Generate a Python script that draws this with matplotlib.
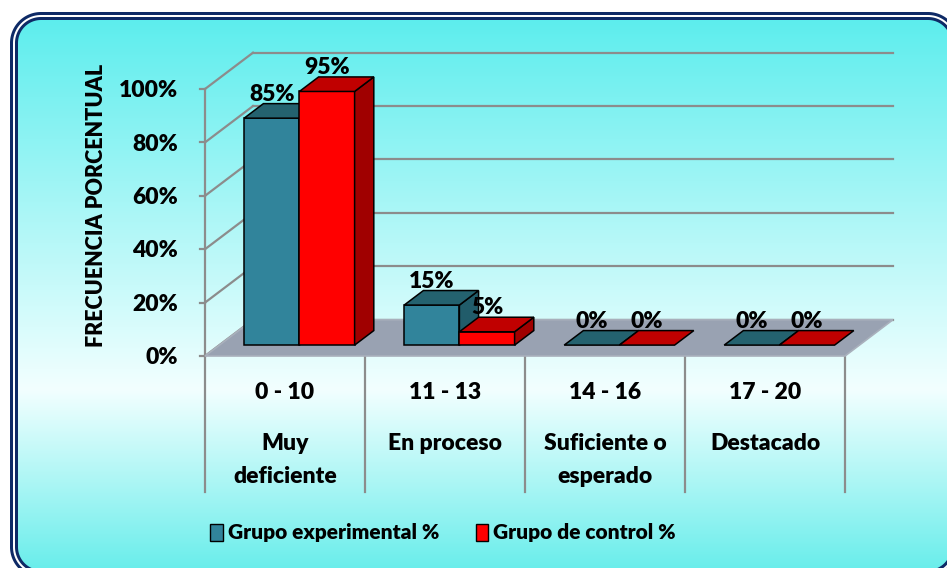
import numpy as np
import matplotlib
matplotlib.use("Agg")
import matplotlib.pyplot as plt
from matplotlib.patches import Polygon, Patch, PathPatch
from matplotlib.path import Path

# ---------------- data ----------------
ranges = ["0 - 10", "11 - 13", "14 - 16", "17 - 20"]
levels = [["Muy", "deficiente"], ["En proceso"], ["Suficiente o", "esperado"], ["Destacado"]]
series_names = ["Grupo experimental %", "Grupo de control %"]
experimental = [85, 15, 0, 0]
control = [95, 5, 0, 0]
yticks = [0, 20, 40, 60, 80, 100]

FONT = "Lato"
WT = "heavy"
plt.rcParams["font.family"] = [FONT, "DejaVu Sans"]
plt.rcParams["font.weight"] = WT

W, H = 947, 568
fig = plt.figure(figsize=(W / 100, H / 100), dpi=100)

# ---------------- background with rounded double border ----------------
bg = fig.add_axes([0, 0, 1, 1])
bg.axis("off")
L, T, R, B = 14, 16, 955, 574
rad = 27

def rrect(l, t, r, b, rr, n=40):
    pts = []
    corners = [(r - rr, t + rr, -90, 0), (r - rr, b - rr, 0, 90),
               (l + rr, b - rr, 90, 180), (l + rr, t + rr, 180, 270)]
    for cx, cy, a0, a1 in corners:
        a = np.radians(np.linspace(a0, a1, n))
        pts.extend(zip(cx + rr * np.cos(a), H - (cy + rr * np.sin(a))))
    return np.array(pts)

def ring(off):
    outer = rrect(L - off, T - off, R + off, B + off, rad + off)
    inner = rrect(L + off, T + off, R - off, B - off, rad - off)[::-1]
    verts = np.vstack([outer, outer[:1], inner, inner[:1]])
    codes = ([Path.MOVETO] + [Path.LINETO] * (len(outer) - 1) + [Path.CLOSEPOLY] +
             [Path.MOVETO] + [Path.LINETO] * (len(inner) - 1) + [Path.CLOSEPOLY])
    return Path(verts, codes)

clip_poly = Polygon(rrect(L, T, R, B, rad), closed=True, facecolor="none",
                    edgecolor="none", transform=bg.transData)
bg.add_patch(clip_poly)
ys = np.linspace(0, 1, 400)
top = np.array([0.36, 0.93, 0.93])
mid = np.array([0.95, 1.0, 1.0])
bot = np.array([0.40, 0.93, 0.92])
pm = 0.67
cols = np.where(ys[:, None] < pm,
                top + (mid - top) * (ys[:, None] / pm),
                mid + (bot - mid) * ((ys[:, None] - pm) / (1 - pm)))
img = bg.imshow(cols[:, None, :], extent=(L, R, H - B, H - T), aspect="auto",
                interpolation="bilinear", zorder=0, origin="upper")
img.set_clip_path(clip_poly)
bg.add_patch(PathPatch(ring(4.0), facecolor="#0E2A66", edgecolor="none", zorder=2))
bg.add_patch(PathPatch(ring(1.0), facecolor="white", edgecolor="none", zorder=3))
bg.set_xlim(0, W)
bg.set_ylim(0, H)

# ---------------- chart axes ----------------
ax = fig.add_axes([205 / W, (H - 356) / H, 640 / W, 267 / H])
ax.set_xlim(0, 4)
ax.set_ylim(0, 100)
ax.axis("off")
ax.patch.set_alpha(0)

DX, DY = 0.30, 13.6      # depth of the box in data units
D0, D1 = 0.3, 0.7        # bar depth range (fraction)
BW = 0.345               # bar width
grid_c = "#8C8C8C"
FS = 16.5

# walls / gridlines
for v in yticks:
    ax.plot([0, DX], [v, v + DY], color=grid_c, lw=1.6, clip_on=False, zorder=1)
    ax.plot([DX, 4 + DX], [v + DY, v + DY], color=grid_c, lw=1.6, clip_on=False, zorder=1)
    ax.plot([-0.03, 0], [v, v], color=grid_c, lw=1.6, clip_on=False, zorder=1)
    ax.text(-0.17, v - 0.6, f"{v}%", ha="right", va="center", fontsize=FS,
            fontweight=WT, color="black", clip_on=False)
ax.plot([0, 0], [0, 100], color=grid_c, lw=1.6, clip_on=False, zorder=1)

# floor
floor = Polygon([(0, 0), (4, 0), (4 + DX, DY), (DX, DY)], closed=True,
                facecolor="#99A2B2", edgecolor="#A9B0BC", lw=1.2, clip_on=False, zorder=2)
ax.add_patch(floor)

# category separators and labels
for i in range(5):
    ax.plot([i, i], [0, -51], color=grid_c, lw=1.6, clip_on=False, zorder=1)
rows = [-32.9, -45.0]
for i, (r, l) in enumerate(zip(ranges, levels)):
    ax.text(i + 0.5, -13.5, r, ha="center", va="center", fontsize=FS,
            fontweight=WT, clip_on=False)
    for k, line in enumerate(l):
        ax.text(i + 0.5, rows[k], line, ha="center", va="center", fontsize=FS,
                fontweight=WT, clip_on=False)

# bars
styles = [("#31849B", "#24626F", "#215C6A"), ("#FF0000", "#C00000", "#A00000")]
z = 3
for i in range(len(ranges)):
    for j, vals in enumerate([experimental, control]):
        v = vals[i]
        front, topc, side = styles[j]
        x0 = i + 0.5 - BW + j * BW + D0 * DX
        x1 = x0 + BW
        y0 = D0 * DY
        dx, dy = (D1 - D0) * DX, (D1 - D0) * DY
        if v > 0:
            ax.add_patch(Polygon([(x0, y0), (x1, y0), (x1, y0 + v), (x0, y0 + v)],
                                 facecolor=front, edgecolor="black", lw=1.1,
                                 clip_on=False, zorder=z))
            ax.add_patch(Polygon([(x1, y0), (x1 + dx, y0 + dy), (x1 + dx, y0 + dy + v), (x1, y0 + v)],
                                 facecolor=side, edgecolor="black", lw=1.1,
                                 clip_on=False, zorder=z))
        ax.add_patch(Polygon([(x0, y0 + v), (x1, y0 + v), (x1 + dx, y0 + dy + v), (x0 + dx, y0 + dy + v)],
                             facecolor=topc, edgecolor="black", lw=1.1,
                             clip_on=False, zorder=z))
        z += 1
        ax.text((x0 + x1) / 2, v + y0 + dy - 0.4, f"{v}%", ha="center", va="bottom",
                fontsize=FS, fontweight=WT, clip_on=False, zorder=20)

# y-axis title
ax.text(-0.675, 56.5, "FRECUENCIA PORCENTUAL", rotation=90, ha="center", va="center",
        fontsize=15.5, fontweight=WT, clip_on=False)

# legend
handles = [Patch(facecolor=styles[0][0], edgecolor="black", lw=1.0),
           Patch(facecolor=styles[1][0], edgecolor="black", lw=1.0)]
fig.legend(handles, series_names, loc="center", bbox_to_anchor=(443 / W, (H - 533) / H),
           ncol=2, frameon=False, handlelength=0.6, handleheight=0.9,
           handletextpad=0.25, columnspacing=1.75, prop={"family": FONT, "weight": WT, "size": 15})

fig.savefig("out.png", dpi=100)
